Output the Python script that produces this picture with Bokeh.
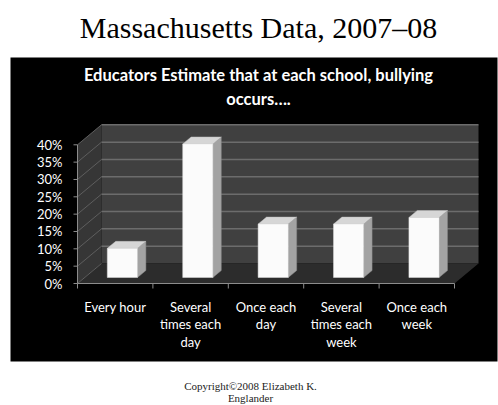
from bokeh.plotting import figure
from bokeh.models import Range1d, ColumnDataSource, BoxAnnotation
from bokeh.core.properties import value
from bokeh.embed import file_html
from bokeh.resources import INLINE

# ---- data ----
categories = ["Every hour", "Several\ntimes each\nday", "Once each\nday",
              "Several\ntimes each\nweek", "Once each\nweek"]
percent = [8.4, 38.5, 15.4, 15.4, 17.3]
y_ticks = [0, 5, 10, 15, 20, 25, 30, 35, 40]
y_tick_labels = ["0%", "5%", "10%", "15%", "20%", "25%", "30%", "35%", "40%"]
title_text = "Massachusetts Data, 2007\u201308"
chart_title = "Educators Estimate that at each school, bullying\noccurs\u2026."
copyright_text = "Copyright\u00a92008 Elizabeth K.\nEnglander"

# ---- geometry (pixel scale of the front plane) ----
W, H = 498, 405
X0, Y0 = 77.0, 283.0          # pixel position of the origin of the front plane
PX_X = 75.4                   # px per category
PX_Y = 3.4675                 # px per percent
DX = 24.0 / PX_X              # depth offset, in data units
DY = 20.0 / PX_Y
YMAX = 40
N = len(categories)

def sx(px):
    return (px - X0) / PX_X

def sy(py):
    return (Y0 - py) / PX_Y

p = figure(width=W, height=H, output_backend="svg", toolbar_location=None,
           x_range=Range1d(sx(0), sx(W)), y_range=Range1d(sy(H), sy(0)),
           x_axis_type=None, y_axis_type=None, min_border=0)
p.outline_line_color = None
p.grid.visible = False
p.background_fill_color = "white"
p.border_fill_color = "white"

# black panel
p.add_layout(BoxAnnotation(left=sx(10), right=sx(497), top=sy(57), bottom=sy(361),
                           fill_color="black", fill_alpha=1, line_color=None, level="underlay"))

# walls
walls = ColumnDataSource(dict(
    xs=[[0, DX, DX, 0],
        [DX, N + DX, N + DX, DX],
        [0, N, N + DX, DX]],
    ys=[[0, DY, YMAX + DY, YMAX],
        [DY, DY, YMAX + DY, YMAX + DY],
        [0, 0, DY, DY]],
    c=["#363636", "#404040", "#2c2c2c"],
))
p.patches("xs", "ys", source=walls, fill_color="c", line_color=None)

# gridlines (back wall + side wall)
gt = y_ticks[1:]
p.segment(x0=[DX] * len(gt), y0=[t + DY for t in gt], x1=[N + DX] * len(gt),
          y1=[t + DY for t in gt], line_color="#6c6c6c", line_width=1.5)
p.segment(x0=[0] * len(y_ticks), y0=y_ticks, x1=[DX] * len(y_ticks),
          y1=[t + DY for t in y_ticks], line_color="#5e5e5e", line_width=1)

# bars
z1, z2 = 0.3, 0.65
bw = 0.4
front_x, front_y, top_x, top_y, side_x, side_y = [], [], [], [], [], []
for i, v in enumerate(percent):
    l = i + 0.5 - bw / 2
    r = i + 0.5 + bw / 2
    front_x.append([l + z1 * DX, r + z1 * DX, r + z1 * DX, l + z1 * DX])
    front_y.append([z1 * DY, z1 * DY, v + z1 * DY, v + z1 * DY])
    top_x.append([l + z1 * DX, r + z1 * DX, r + z2 * DX, l + z2 * DX])
    top_y.append([v + z1 * DY, v + z1 * DY, v + z2 * DY, v + z2 * DY])
    side_x.append([r + z1 * DX, r + z2 * DX, r + z2 * DX, r + z1 * DX])
    side_y.append([z1 * DY, z2 * DY, v + z2 * DY, v + z1 * DY])

p.patches(xs=side_x, ys=side_y, fill_color="#a3a3a3", line_color="#8a8a8a", line_width=0.5)
p.patches(xs=top_x, ys=top_y, fill_color="#d6d6d6", line_color="#bdbdbd", line_width=0.5)
p.patches(xs=front_x, ys=front_y, fill_color="#fbfbfb", line_color="#e0e0e0", line_width=0.5)

# value axis
p.segment(x0=[0], y0=[0], x1=[0], y1=[YMAX], line_color="#8c8c8c", line_width=1)
p.segment(x0=[sx(X0 - 4)] * len(y_ticks), y0=y_ticks, x1=[0] * len(y_ticks), y1=y_ticks,
          line_color="#8c8c8c", line_width=1)
p.text(x=[sx(X0 - 15)] * len(y_ticks), y=y_ticks, text=y_tick_labels,
       text_font=value("Lato"), text_font_size=value("13px"), text_color="white",
       text_align="right", text_baseline="middle")

# category axis
bounds = list(range(N + 1))
p.segment(x0=[0], y0=[0], x1=[N], y1=[0], line_color="#8c8c8c", line_width=1)
p.segment(x0=bounds, y0=[0] * len(bounds), x1=bounds, y1=[sy(Y0 + 5)] * len(bounds),
          line_color="#8c8c8c", line_width=1)
p.text(x=[i + 0.5 for i in range(N)], y=[sy(298)] * N, text=categories,
       text_font=value("Lato"), text_font_size=value("13px"), text_color="white",
       text_align="center", text_baseline="top", text_line_height=1.12)

# titles
p.text(x=[sx(258)], y=[sy(27)], text=[title_text], text_font=value("Liberation Serif"),
       text_font_size=value("30px"), text_color="black", text_align="center",
       text_baseline="middle")
p.text(x=[sx(258)], y=[sy(64)], text=[chart_title], text_font=value("Lato"),
       text_font_size=value("16.5px"), text_font_style="bold", text_color="white",
       text_align="center", text_baseline="top", text_line_height=1.2)
p.text(x=[sx(250)], y=[sy(379)], text=[copyright_text], text_font=value("Liberation Serif"),
       text_font_size=value("11px"), text_color="#222222", text_align="center",
       text_baseline="top", text_line_height=1.0)

open("out.html", "w").write(file_html(p, INLINE))
